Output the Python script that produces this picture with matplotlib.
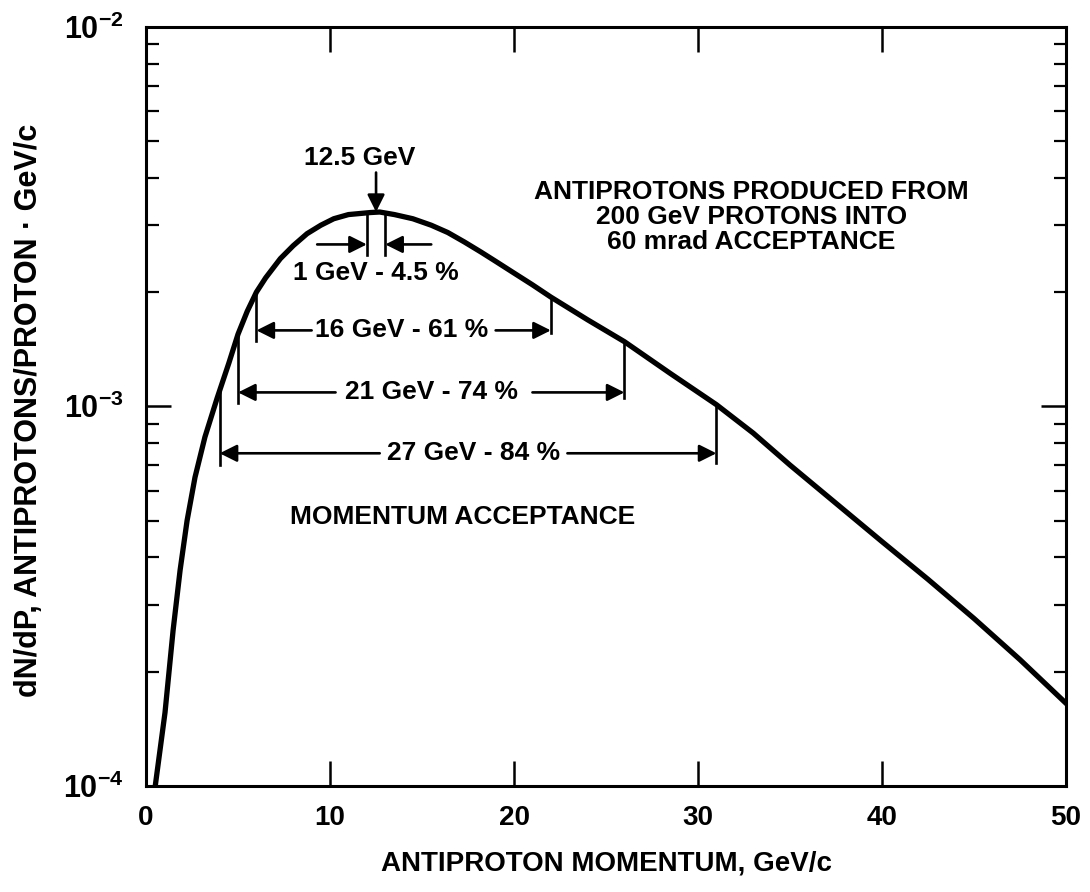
import matplotlib
matplotlib.use("Agg")
import matplotlib.pyplot as plt
from matplotlib.ticker import LogLocator, NullFormatter, FixedLocator

plt.rcParams["font.family"] = ["Liberation Sans", "DejaVu Sans"]
plt.rcParams["font.weight"] = "bold"
plt.rcParams["mathtext.fontset"] = "custom"
plt.rcParams["mathtext.rm"] = "Liberation Sans:bold"
plt.rcParams["mathtext.bf"] = "Liberation Sans:bold"
plt.rcParams["mathtext.it"] = "Liberation Sans:bold"

# antiprotons per proton per GeV/c vs momentum
momentum = [0.5, 1.03, 1.47, 1.85, 2.23, 2.66, 3.2, 3.86, 4.5, 5.0, 5.5,
            6.0, 6.5, 7.3, 8.0, 8.75, 9.5, 10.2, 11.0, 12.2, 12.7, 13.5,
            14.5, 15.5, 16.4, 17.3, 18.2, 19.0, 19.9, 21.0, 22.0, 24.0,
            26.0, 28.5, 31.0, 33.0, 35.0, 37.5, 40.0, 42.5, 45.0, 47.5, 50.0]
dndp = [1.0e-4, 1.56e-4, 2.57e-4, 3.7e-4, 5.0e-4, 6.5e-4, 8.3e-4, 1.05e-3,
        1.3e-3, 1.55e-3, 1.78e-3, 2.0e-3, 2.18e-3, 2.45e-3, 2.65e-3,
        2.85e-3, 3.0e-3, 3.12e-3, 3.2e-3, 3.24e-3, 3.25e-3, 3.2e-3,
        3.12e-3, 3.0e-3, 2.87e-3, 2.71e-3, 2.55e-3, 2.41e-3, 2.26e-3,
        2.09e-3, 1.94e-3, 1.69e-3, 1.48e-3, 1.22e-3, 1.01e-3, 8.5e-4,
        7.0e-4, 5.55e-4, 4.4e-4, 3.5e-4, 2.76e-4, 2.15e-4, 1.65e-4]

# momentum acceptance windows: (low edge, high edge, label)
windows = [(12.0, 13.0, "1 GeV - 4.5 %"),
           (6.0, 22.0, "16 GeV - 61 %"),
           (5.0, 26.0, "21 GeV - 74 %"),
           (4.0, 31.0, "27 GeV - 84 %")]
# curve value at the edges, and bottom of the marker lines
edge_top = {12.0: 3.24e-3, 13.0: 3.23e-3, 6.0: 2.0e-3, 22.0: 1.94e-3,
            5.0: 1.55e-3, 26.0: 1.48e-3, 4.0: 1.1e-3, 31.0: 1.01e-3}
edge_bottom = {12.0: 2.5e-3, 13.0: 2.5e-3, 6.0: 1.49e-3, 22.0: 1.56e-3,
               5.0: 1.02e-3, 26.0: 1.05e-3, 4.0: 7.0e-4, 31.0: 7.08e-4}
arrow_y = [2.67e-3, 1.585e-3, 1.088e-3, 7.52e-4]
label_x = [12.5, 13.9, 15.5, 17.8]
label_y = [2.24e-3, 1.585e-3, 1.088e-3, 7.52e-4]
# where the arrow shafts stop next to the text
tail_left = [9.3, 9.0, 10.3, 12.7]
tail_right = [15.5, 19.0, 21.0, 22.9]

fig = plt.figure(figsize=(10.9, 8.92), dpi=100)
ax = fig.add_axes([0.134, 0.119, 0.844, 0.851])

ax.plot(momentum, dndp, color="black", lw=3.8, solid_joinstyle="round")

ax.set_xlim(0, 50)
ax.set_ylim(1e-4, 1e-2)
ax.set_yscale("log")

FS = 19
arr = dict(arrowstyle="-|>", mutation_scale=26, lw=1.9, color="black",
           shrinkA=0, shrinkB=0)

for (lo, hi, txt), ya, lx, ly, tl, tr in zip(windows, arrow_y, label_x,
                                             label_y, tail_left, tail_right):
    for e in (lo, hi):
        ax.plot([e, e], [edge_bottom[e], edge_top[e]], color="black", lw=1.9)
    ax.annotate("", xy=(lo, ya), xytext=(tl, ya), arrowprops=arr)
    ax.annotate("", xy=(hi, ya), xytext=(tr, ya), arrowprops=arr)
    ax.text(lx, ly, txt, fontsize=FS, fontweight="bold", ha="center",
            va="center")

# peak marker
ax.annotate("", xy=(12.5, 3.25e-3), xytext=(12.5, 4.13e-3), arrowprops=arr)
ax.text(11.6, 4.52e-3, "12.5 GeV", fontsize=FS, fontweight="bold",
        ha="center", va="center")

ax.text(32.9, 3.16e-3,
        "ANTIPROTONS PRODUCED FROM\n200 GeV PROTONS INTO\n60 mrad ACCEPTANCE",
        fontsize=FS, fontweight="bold", ha="center", va="center",
        multialignment="center", linespacing=1.05)
ax.text(17.2, 5.1e-4, "MOMENTUM ACCEPTANCE", fontsize=FS, fontweight="bold",
        ha="center", va="center")

# axes, ticks
for sp in ax.spines.values():
    sp.set_linewidth(2.2)
ax.xaxis.set_major_locator(FixedLocator([0, 10, 20, 30, 40, 50]))
ax.set_xticklabels(["0", "10", "20", "30", "40", "50"])
ax.yaxis.set_major_locator(FixedLocator([1e-4, 1e-3, 1e-2]))
ax.set_yticklabels([r"$10^{-4}$", r"$10^{-3}$", r"$10^{-2}$"])
ax.yaxis.set_minor_locator(LogLocator(base=10, subs=range(2, 10)))
ax.yaxis.set_minor_formatter(NullFormatter())
ax.tick_params(which="major", direction="in", length=18, width=1.8,
               top=True, right=True, labelsize=20, pad=14)
ax.tick_params(which="minor", direction="in", length=9, width=1.6,
               top=False, right=True)
ax.tick_params(axis="y", which="major", pad=16, labelsize=22)

fig.text(0.5564, 0.032, "ANTIPROTON MOMENTUM, GeV/c", fontsize=20,
         fontweight="bold", ha="center", va="center")
fig.text(0.027, 0.54, "dN/dP, ANTIPROTONS/PROTON \u00b7 GeV/c",
         fontsize=22, fontweight="bold", ha="center", va="center",
         rotation=90)

fig.savefig("out.png", dpi=100)
